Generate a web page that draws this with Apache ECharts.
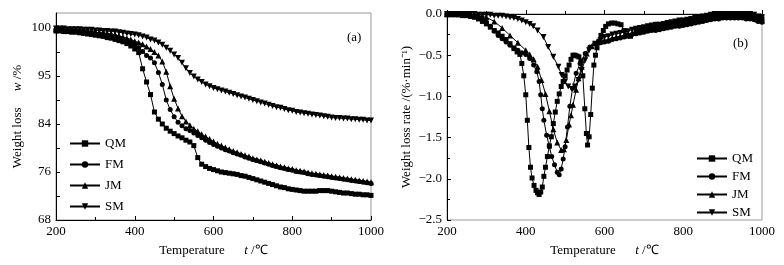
<!DOCTYPE html>
<html>
<head>
<meta charset="utf-8">
<script src="https://cdn.jsdelivr.net/npm/echarts@6/dist/echarts.min.js"></script>
<style>
  html, body { margin: 0; padding: 0; background: #fff; }
  #chart { width: 784px; height: 265px; }
</style>
</head>
<body>
<div id="chart"></div>
<script>
// (a) weight loss, temperature every 10 C
const tgTemp = [200,210,220,230,240,250,260,270,280,290,300,310,320,330,340,350,360,370,380,390,
  400,410,420,430,440,450,460,470,480,490,500,510,520,530,540,550,560,570,580,590,
  600,610,620,630,640,650,660,670,680,690,700,710,720,730,740,750,760,770,780,790,
  800,810,820,830,840,850,860,870,880,890,900,910,920,930,940,950,960,970,980,990,1000]

const tgQM = [99.5,99.5,99.4,99.4,99.3,99.3,99.2,99.1,99.0,98.9,98.8,98.7,98.6,98.4,98.3,98.1,97.9,97.7,97.4,97.0,
  96.5,95.9,93.2,91.0,88.9,86.0,84.8,84.0,83.3,82.8,82.4,82.0,81.7,81.3,81.0,80.4,78.4,77.3,76.9,76.6,
  76.4,76.2,76.0,75.9,75.8,75.7,75.6,75.4,75.3,75.1,74.9,74.7,74.5,74.3,74.1,73.9,73.7,73.5,73.4,73.2,
  73.1,73.0,72.9,72.8,72.8,72.8,72.8,72.9,72.9,72.9,72.8,72.7,72.6,72.5,72.5,72.4,72.3,72.3,72.2,72.2,72.1]
const tgFM = [99.7,99.7,99.6,99.6,99.5,99.5,99.4,99.4,99.3,99.2,99.1,99.0,98.9,98.8,98.7,98.5,98.3,98.1,97.9,97.6,
  97.2,96.7,96.1,95.4,95.0,94.2,92.6,90.6,88.0,86.4,85.2,84.3,83.7,83.2,82.9,82.5,82.1,81.7,81.3,80.9,
  80.6,80.3,80.0,79.7,79.5,79.2,79.0,78.8,78.5,78.3,78.1,77.9,77.7,77.5,77.3,77.1,76.9,76.7,76.6,76.4,
  76.3,76.1,76.0,75.9,75.7,75.6,75.5,75.4,75.3,75.2,75.1,75.0,74.9,74.8,74.7,74.6,74.5,74.4,74.3,74.2,74.1]
const tgJM = [99.8,99.8,99.7,99.7,99.7,99.6,99.6,99.5,99.5,99.4,99.3,99.2,99.2,99.1,99.0,98.9,98.7,98.5,98.3,98.1,
  97.8,97.6,97.3,96.9,96.5,96.0,95.4,94.4,92.7,90.3,88.2,86.6,85.3,84.4,83.8,83.2,82.8,82.3,81.9,81.5,
  81.1,80.7,80.4,80.1,79.8,79.5,79.3,79.0,78.8,78.6,78.3,78.1,77.9,77.7,77.5,77.3,77.1,76.9,76.8,76.6,
  76.5,76.3,76.2,76.1,75.9,75.8,75.7,75.6,75.5,75.4,75.3,75.2,75.1,75.0,74.9,74.8,74.7,74.6,74.5,74.4,74.3]
const tgSM = [99.9,99.9,99.9,99.8,99.8,99.8,99.8,99.7,99.7,99.7,99.6,99.6,99.5,99.5,99.4,99.4,99.3,99.2,99.1,99.0,
  98.9,98.8,98.6,98.4,98.1,97.9,97.6,97.2,96.7,96.2,95.6,95.0,94.2,93.3,92.5,91.9,91.4,91.0,90.6,90.3,
  90.0,89.8,89.6,89.4,89.2,89.0,88.8,88.6,88.4,88.2,88.0,87.8,87.6,87.4,87.2,87.0,86.8,86.7,86.5,86.3,
  86.2,86.0,85.9,85.8,85.7,85.6,85.5,85.4,85.3,85.2,85.1,85.0,85.0,84.9,84.9,84.8,84.8,84.7,84.7,84.6,84.6]

// tick labels of (a) as printed (the 92 tick is printed "95")
const tgTicks = [68,76,84,92,100]
const tgTickText = {68:'68',76:'76',84:'84',92:'95',100:'100'}
const tgMinor = [72,80,88,96]

// (b) weight loss rate
const tail = [600,610,620,630,640,650,660,670,680,690,700,710,720,730,740,750,760,770,780,790,
  800,810,820,830,840,850,860,870,880,890,900,910,920,930,940,950,960,970,980,990,1000]

const dtgQMT = [200,210,220,230,240,250,260,270,280,290,300,310,320,330,340,350,360,370,378,385,390,395,400,404,408,412,416,421,426,430,434,438,442,446,450,455,460,465,470,475,480,485,490,495,500,505,510,515,520,525,530,535,540,545,550,554,557,561,565,569,573,577,581,586,591,597,603,610,618,626,634,642,650,658,666,
  680,690,700,710,720,730,740,750,760,770,780,790,800,810,820,830,840,850,860,870,880,890,900,910,920,930,940,950,960,970,980,990,1000]
const dtgQM = [-0.01,-0.01,-0.01,-0.01,-0.02,-0.02,-0.03,-0.04,-0.06,-0.09,-0.12,-0.16,-0.20,-0.23,-0.27,-0.31,-0.36,-0.42,-0.46,-0.49,-0.60,-0.75,-0.98,-1.29,-1.62,-1.86,-1.99,-2.08,-2.14,-2.17,-2.19,-2.16,-2.10,-1.97,-1.86,-1.73,-1.60,-1.49,-1.33,-1.19,-1.06,-0.97,-0.88,-0.82,-0.75,-0.68,-0.62,-0.55,-0.50,-0.50,-0.51,-0.52,-0.57,-0.75,-1.15,-1.45,-1.59,-1.49,-1.22,-0.90,-0.62,-0.50,-0.41,-0.33,-0.26,-0.20,-0.15,-0.12,-0.11,-0.11,-0.12,-0.13,-0.20,-0.26,-0.27,
  -0.20,-0.19,-0.18,-0.17,-0.16,-0.16,-0.15,-0.14,-0.13,-0.12,-0.11,-0.10,-0.10,-0.09,-0.08,-0.07,-0.06,-0.05,-0.04,-0.03,-0.02,-0.02,-0.01,-0.01,-0.01,-0.01,-0.01,-0.01,-0.02,-0.02,-0.03,-0.05,-0.06]

const dtgFMT = [200,210,220,230,240,250,260,270,280,290,300,310,320,330,340,350,360,370,380,390,400,410,420,428,434,438,442,446,453,460,466,473,480,485,490,495,500,506,512,519,528,538,551,563,575,590].concat(tail)
const dtgFM = [0,0,0,-0.01,-0.01,-0.01,-0.02,-0.03,-0.04,-0.07,-0.10,-0.15,-0.21,-0.26,-0.30,-0.34,-0.38,-0.41,-0.44,-0.47,-0.49,-0.54,-0.62,-0.70,-0.82,-0.98,-1.15,-1.29,-1.47,-1.61,-1.73,-1.83,-1.92,-1.95,-1.88,-1.76,-1.61,-1.37,-1.12,-0.90,-0.72,-0.60,-0.48,-0.40,-0.36,-0.35,
  -0.34,-0.33,-0.31,-0.30,-0.29,-0.28,-0.27,-0.25,-0.24,-0.23,-0.22,-0.21,-0.20,-0.20,-0.19,-0.18,-0.17,-0.16,-0.15,-0.15,-0.14,-0.13,-0.12,-0.11,-0.10,-0.09,-0.08,-0.07,-0.06,-0.06,-0.05,-0.05,-0.05,-0.05,-0.05,-0.05,-0.06,-0.06,-0.07,-0.09,-0.10]

const dtgJMT = [200,210,220,230,240,250,260,270,280,290,300,320,340,360,380,400,410,420,430,440,450,460,470,480,490,497,503,510,515,520,528,534,542,555,568,580,590].concat(tail)
const dtgJM = [0,0,0,0,-0.01,-0.01,-0.01,-0.02,-0.02,-0.03,-0.04,-0.09,-0.17,-0.26,-0.35,-0.44,-0.49,-0.55,-0.64,-0.80,-0.97,-1.18,-1.40,-1.56,-1.65,-1.64,-1.53,-1.34,-1.23,-1.10,-0.92,-0.78,-0.64,-0.48,-0.39,-0.35,-0.33,
  -0.32,-0.31,-0.29,-0.28,-0.27,-0.26,-0.25,-0.23,-0.22,-0.21,-0.20,-0.19,-0.18,-0.18,-0.17,-0.16,-0.15,-0.14,-0.13,-0.13,-0.12,-0.11,-0.10,-0.09,-0.08,-0.07,-0.06,-0.05,-0.04,-0.04,-0.03,-0.03,-0.03,-0.03,-0.03,-0.03,-0.04,-0.04,-0.05,-0.07,-0.08]

const dtgSMT = [200,210,220,230,240,250,260,270,280,290,300,310,320,330,340,350,360,370,380,390,400,410,419,430,445,457,470,483,491,500,508,517,525,534,542,551,561,576,590].concat(tail)
const dtgSM = [0,0,0,0,0,0,0,0,-0.01,-0.01,-0.01,-0.01,-0.02,-0.02,-0.02,-0.03,-0.04,-0.05,-0.06,-0.08,-0.10,-0.12,-0.15,-0.20,-0.28,-0.40,-0.52,-0.64,-0.74,-0.82,-0.88,-0.91,-0.88,-0.80,-0.68,-0.56,-0.44,-0.36,-0.32,
  -0.28,-0.27,-0.25,-0.24,-0.23,-0.22,-0.21,-0.19,-0.18,-0.17,-0.16,-0.15,-0.14,-0.13,-0.13,-0.12,-0.11,-0.10,-0.09,-0.08,-0.08,-0.07,-0.06,-0.05,-0.04,-0.03,-0.02,-0.01,0,0,0,0,0,0,0,0,0,0,-0.01,-0.03,-0.04]

const names = ['QM', 'FM', 'JM', 'SM']

const font = 'Liberation Serif'
const chart = echarts.init(document.getElementById('chart'), null, { renderer: 'canvas' })

function zip(xs, ys) {
  return xs.map((x, i) => [x, ys[i]])
}

const marks = {
  QM: { symbol: 'rect', symbolSize: 5, symbolRotate: 0 },
  FM: { symbol: 'circle', symbolSize: 5, symbolRotate: 0 },
  JM: { symbol: 'triangle', symbolSize: 6, symbolRotate: 0 },
  SM: { symbol: 'triangle', symbolSize: 6, symbolRotate: 180 }
}

function line(name, data, idx) {
  return {
    name: name,
    type: 'line',
    xAxisIndex: idx,
    yAxisIndex: idx,
    data: data,
    symbol: marks[name].symbol,
    symbolSize: marks[name].symbolSize,
    symbolRotate: marks[name].symbolRotate,
    showAllSymbol: true,
    animation: false,
    lineStyle: { color: '#000', width: 1 },
    itemStyle: { color: '#000' }
  }
}

const axisText = { color: '#000', fontFamily: font, fontSize: 13 }

function xAxis(idx) {
  return {
    type: 'value', gridIndex: idx, min: 200, max: 1000, interval: 200,
    axisLine: { lineStyle: { color: '#000', width: 1 } },
    axisTick: { inside: true, length: 4, lineStyle: { color: '#000' } },
    minorTick: { show: true, splitNumber: 2, length: 3, lineStyle: { color: '#000' } },
    axisLabel: Object.assign({ margin: 5, formatter: v => String(v) }, axisText),
    splitLine: { show: false },
    name: 'Temperature      {i|t} /℃',
    nameLocation: 'middle',
    nameGap: 24,
    nameTextStyle: {
      color: '#000', fontFamily: font, fontSize: 13,
      rich: { i: { fontStyle: 'italic', fontFamily: font, fontSize: 13, color: '#000' } }
    }
  }
}

const option = {
  backgroundColor: '#fff',
  animation: false,
  grid: [
    { left: 56, top: 13, width: 315, height: 207, show: true, borderColor: '#999', borderWidth: 1 },
    { left: 447, top: 14, width: 315, height: 206, show: true, borderColor: '#999', borderWidth: 1 }
  ],
  xAxis: [xAxis(0), xAxis(1)],
  yAxis: [
    {
      type: 'value', gridIndex: 0, min: 68, max: 102.5,
      axisLine: { show: true, lineStyle: { color: '#000', width: 1 } },
      axisTick: { inside: true, length: 4, lineStyle: { color: '#000' }, customValues: tgTicks.concat(tgMinor) },
      axisLabel: Object.assign({
        margin: 5,
        customValues: tgTicks,
        formatter: v => tgTickText[v] || ''
      }, axisText),
      splitLine: { show: false },
      name: 'Weight loss     {i|w} /%',
      nameLocation: 'middle',
      nameGap: 32,
      nameTextStyle: {
        color: '#000', fontFamily: font, fontSize: 13,
        rich: { i: { fontStyle: 'italic', fontFamily: font, fontSize: 13, color: '#000' } }
      }
    },
    {
      type: 'value', gridIndex: 1, min: -2.5, max: 0, interval: 0.5,
      axisLine: { show: true, lineStyle: { color: '#000', width: 1 } },
      axisTick: { inside: true, length: 4, lineStyle: { color: '#000' } },
      minorTick: { show: true, splitNumber: 2, length: 3, lineStyle: { color: '#000' } },
      axisLabel: Object.assign({
        margin: 5,
        formatter: v => (v < 0 ? '\u2212' : '') + Math.abs(v).toFixed(1)
      }, axisText),
      splitLine: { show: false },
      name: 'Weight loss rate /(%·min⁻¹)',
      nameLocation: 'middle',
      nameGap: 34,
      nameTextStyle: { color: '#000', fontFamily: font, fontSize: 13 }
    }
  ],
  legend: [
    {
      data: names, orient: 'vertical', left: 64, top: 132, itemGap: 8,
      itemWidth: 30, itemHeight: 8,
      textStyle: { color: '#000', fontFamily: font, fontSize: 13, lineHeight: 12 }
    },
    {
      data: names, orient: 'vertical', left: 691, top: 147, itemGap: 5,
      itemWidth: 30, itemHeight: 8,
      textStyle: { color: '#000', fontFamily: font, fontSize: 13, lineHeight: 12 }
    }
  ],
  graphic: [
    { type: 'text', left: 347, top: 31, style: { text: '(a)', fill: '#000', font: '13px "Liberation Serif"' } },
    { type: 'text', left: 733, top: 37, style: { text: '(b)', fill: '#000', font: '13px "Liberation Serif"' } }
  ],
  series: [
    line('QM', zip(tgTemp, tgQM), 0),
    line('FM', zip(tgTemp, tgFM), 0),
    line('JM', zip(tgTemp, tgJM), 0),
    line('SM', zip(tgTemp, tgSM), 0),
    line('QM', zip(dtgQMT, dtgQM), 1),
    line('FM', zip(dtgFMT, dtgFM), 1),
    line('JM', zip(dtgJMT, dtgJM), 1),
    line('SM', zip(dtgSMT, dtgSM), 1)
  ]
}

chart.setOption(option)
</script>
</body>
</html>
